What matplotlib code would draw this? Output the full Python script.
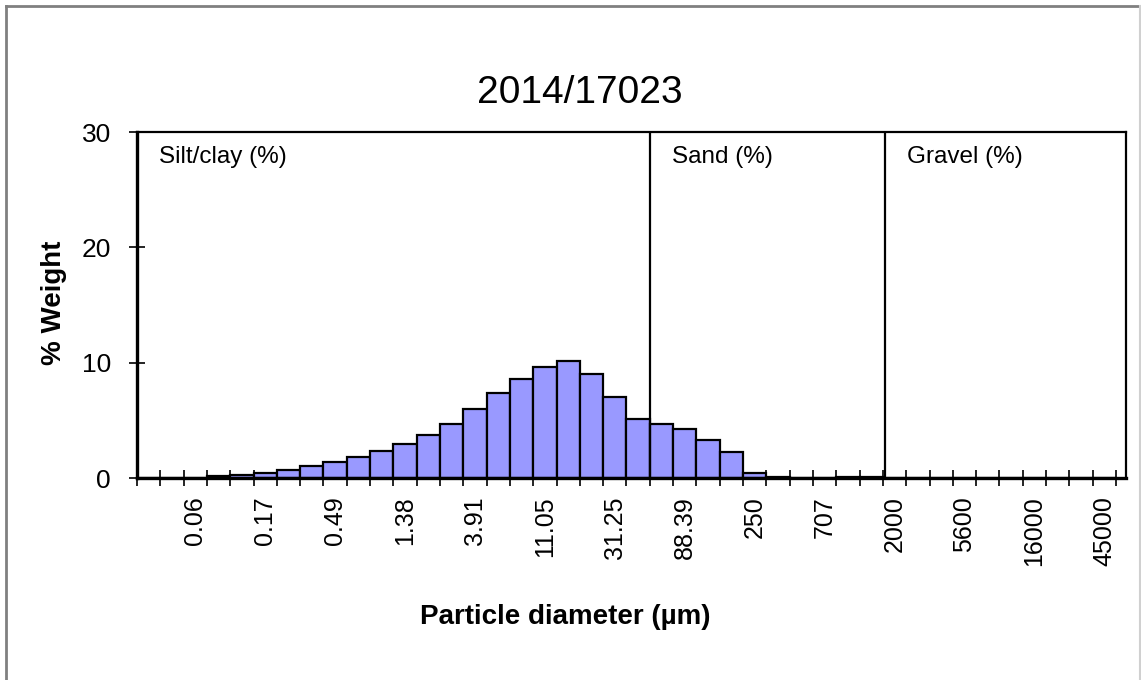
import matplotlib
matplotlib.use("Agg")
import matplotlib.pyplot as plt
from matplotlib.lines import Line2D

plt.rcParams['font.family'] = ['Liberation Sans', 'DejaVu Sans']

# Data: % weight per half-phi size class (42 classes, 0.03 um .. 45000+ um)
weights = [0, 0, 0, 0.17, 0.26, 0.46, 0.67, 1.02, 1.43, 1.78,
           2.3, 2.97, 3.73, 4.7, 6.0, 7.38, 8.55, 9.6, 10.15, 9.0,
           7.0, 5.15, 4.65, 4.23, 3.27, 2.27, 0.44, 0.05, 0, 0,
           0.1, 0.1, 0, 0, 0, 0, 0, 0, 0, 0,
           0, 0]
label_idx = [2, 5, 8, 11, 14, 17, 20, 23, 26, 29, 32, 35, 38, 41]
tick_labels = ['0.06', '0.17', '0.49', '1.38', '3.91', '11.05', '31.25',
               '88.39', '250', '707', '2000', '5600', '16000', '45000']
fractions = ['Silt/clay (%)', 'Sand (%)', 'Gravel (%)']
frac_start = [0, 22, 32.1]

W, H = 1141, 680
fig = plt.figure(figsize=(W / 100, H / 100), dpi=100)
ax = fig.add_axes([137 / W, 1 - 478 / H, (1126 - 137) / W, (478 - 132) / H])

n = len(weights)
ax.bar([i + 0.5 for i in range(n)], weights, width=1.0, color='#9999FF',
       edgecolor='black', linewidth=1.6, zorder=2)

ax.set_xlim(0, n + 0.43)
ax.set_ylim(0, 30)
ax.set_yticks([0, 10, 20, 30])
ax.set_xticks(range(n + 1))
ax.set_xticklabels([])
ax.set_xticks([i + 0.5 for i in label_idx], minor=True)
ax.set_xticklabels(tick_labels, minor=True, rotation=90, fontsize=18)
ax.tick_params(axis='x', which='major', direction='inout', length=11.5, width=1.2)
ax.tick_params(axis='x', which='minor', length=0, pad=13)
ax.tick_params(axis='y', direction='inout', length=11.5, width=1.2,
               labelsize=19, pad=13)

for side in ['left', 'bottom']:
    ax.spines[side].set_linewidth(2.4)
for side in ['top', 'right']:
    ax.spines[side].set_linewidth(1.6)

# fraction boundaries and labels
for start, name in zip(frac_start, fractions):
    if start > 0:
        ax.axvline(start, color='black', linewidth=1.6, zorder=3)
    ax.text(start + 0.95, 27.8, name, fontsize=17.5, va='center', ha='left')

fig.text(580 / W, 1 - 93 / H, '2014/17023', fontsize=28, ha='center', va='center')
fig.text(54 / W, 1 - 303 / H, '% Weight', fontsize=20, fontweight='bold',
         rotation=90, ha='center', va='center')
fig.text(565 / W, 1 - 617 / H, 'Particle diameter (\u00b5m)', fontsize=20,
         fontweight='bold', ha='center', va='center')

# outer chart frame
fig.add_artist(Line2D([6 / W, 6 / W], [0, 1 - 6 / H], color='#808080', linewidth=2,
                      transform=fig.transFigure))
fig.add_artist(Line2D([6 / W, 1140 / W], [1 - 6 / H, 1 - 6 / H], color='#808080',
                      linewidth=2, transform=fig.transFigure))
fig.add_artist(Line2D([1140 / W, 1140 / W], [0, 1 - 6 / H], color='#d0d0d0',
                      linewidth=1.5, transform=fig.transFigure))

fig.savefig('out.png', dpi=100)
